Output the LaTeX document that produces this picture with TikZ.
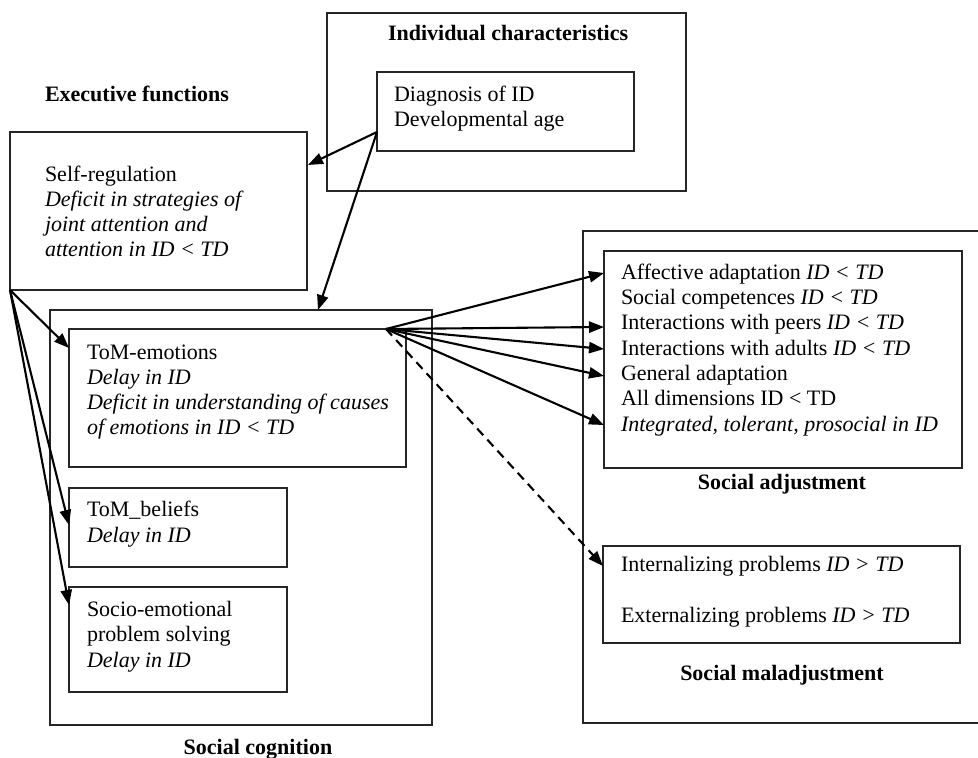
\documentclass[tikz,border=0pt]{standalone}
\usepackage{fontspec}
\setmainfont{Liberation Serif}
\usetikzlibrary{arrows.meta}
\begin{document}
\begin{tikzpicture}[x=0.5pt,y=-0.5pt,
  box/.style={draw=black!85, line width=0.95pt, inner sep=0pt, outer sep=0pt, anchor=north west},
  txt/.style={inner sep=0pt, outer sep=0pt, anchor=base west, align=left, font=\fontsize{11}{12.65}\selectfont},
  ttl/.style={inner sep=0pt, outer sep=0pt, anchor=base, font=\fontsize{11}{12.65}\selectfont\bfseries},
  ttlw/.style={ttl, anchor=base west},
  arr/.style={line width=1.05pt, -{Triangle[length=7.5pt,width=5.6pt]}},
  darr/.style={arr, dash pattern=on 4.5pt off 3pt}]
\useasboundingbox (0,0) rectangle (978,758);
% boxes
\node[box, minimum width=179.5pt, minimum height=89pt] (indiv) at (327,13) {};
\node[box, minimum width=128.5pt, minimum height=39.5pt] (diag) at (377,72) {};
\node[box, minimum width=148.5pt, minimum height=79pt] (selfreg) at (10,132) {};
\node[box, minimum width=191pt, minimum height=207.5pt] (cog) at (50,310) {};
\node[box, minimum width=168.5pt, minimum height=69pt] (tomemo) at (69,329) {};
\node[box, minimum width=109pt, minimum height=39.5pt] (tombel) at (69,488) {};
\node[box, minimum width=109pt, minimum height=52.5pt] (socio) at (69,587) {};
\node[box, minimum width=210pt, minimum height=246pt] (adjout) at (583,231) {};
\node[box, minimum width=179pt, minimum height=108.5pt] (adjin) at (604,251) {};
\node[box, minimum width=178.5pt, minimum height=48.5pt] (mal) at (603,546) {};
% titles
\node[ttlw] (tindiv) at (388,41) {Individual characteristics};
\node[ttlw] (texec) at (45,102) {Executive functions};
\node[ttl] (tcog) at (258,754) {Social cognition};
\node[ttl] (tadj) at (782,489) {Social adjustment};
\node[ttl] (tmal) at (782,680) {Social maladjustment};
% texts (anchored at the baseline of their last line)
\node[txt] (xdiag) at (394,127) {Diagnosis of ID\\Developmental age};
\node[txt] (xself) at (45,257) {Self-regulation\\\textit{Deficit in strategies of}\\\textit{joint attention and}\\\textit{attention in ID < TD}};
\node[txt] (xemo) at (87,435) {ToM-emotions\\\textit{Delay in ID}\\\textit{Deficit in understanding of causes}\\\textit{of emotions in ID < TD}};
\node[txt] (xbel) at (87,542) {ToM\_beliefs\\\textit{Delay in ID}};
\node[txt] (xsocio) at (87,667) {Socio-emotional\\problem solving\\\textit{Delay in ID}};
\node[txt] (xadj) at (621,431) {Affective adaptation \textit{ID < TD}\\Social competences \textit{ID < TD}\\Interactions with peers \textit{ID < TD}\\Interactions with adults \textit{ID < TD}\\General adaptation\\All dimensions ID < TD\\\textit{Integrated, tolerant, prosocial in ID}};
\node[txt] (xmal) at (621,622) {Internalizing problems \textit{ID > TD}\\[12.4pt]Externalizing problems \textit{ID > TD}};
% connector ports
\coordinate (pdiag) at (377,132);
\coordinate (pself) at (10,290);
\coordinate (pemo) at (386,329);
\coordinate (iself) at (308,165);
\coordinate (icog) at (318,310);
\coordinate (iemo) at (69,348);
\coordinate (ibel) at (69,525);
\coordinate (isocio) at (69,605);
\coordinate (ia1) at (604,273);
\coordinate (ia2) at (604,327);
\coordinate (ia3) at (604,349);
\coordinate (ia4) at (604,376);
\coordinate (ia5) at (604,425);
\coordinate (imal) at (603,566);
% connectors
\draw[arr] (pdiag) -- (iself);
\draw[arr] (pdiag) -- (icog);
\draw[arr] (pself) -- (iemo);
\draw[arr] (pself) -- (ibel);
\draw[arr] (pself) -- (isocio);
\draw[arr] (pemo) -- (ia1);
\draw[arr] (pemo) -- (ia2);
\draw[arr] (pemo) -- (ia3);
\draw[arr] (pemo) -- (ia4);
\draw[arr] (pemo) -- (ia5);
\draw[darr] (pemo) -- (imal);
\end{tikzpicture}
\end{document}
